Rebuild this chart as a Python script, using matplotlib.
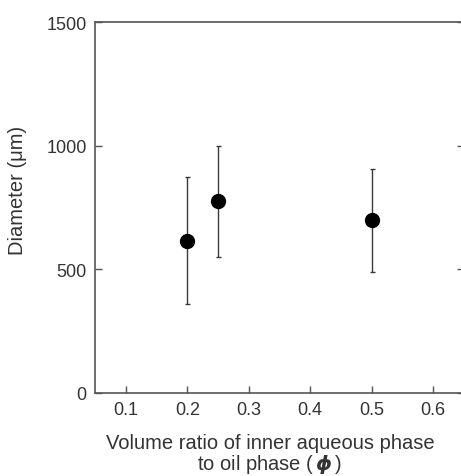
import matplotlib
matplotlib.use("Agg")
import matplotlib.pyplot as plt

# Data
phi = [0.2, 0.25, 0.5]
diameter = [615, 775, 700]
err_low = [255, 225, 210]
err_high = [260, 225, 205]

plt.rcParams['font.family'] = ['Liberation Sans', 'DejaVu Sans']

fig = plt.figure(figsize=(4.61, 4.77), dpi=100)
W, H = 461, 477
ax = fig.add_axes([95 / W, 1 - 394 / H, (464 - 95) / W, (394 - 23) / H])

ax.errorbar(phi, diameter, yerr=[err_low, err_high], fmt='o', color='black',
            ecolor='#3a3a3a', elinewidth=1.0, capsize=1.8, capthick=1.0,
            markersize=10)

ax.set_xlim(0.05, 0.65)
ax.set_ylim(0, 1500)
ax.set_xticks([0.1, 0.2, 0.3, 0.4, 0.5, 0.6])
ax.set_yticks([0, 500, 1000, 1500])

for s in ax.spines.values():
    s.set_color('#555555')
    s.set_linewidth(1.2)

ax.tick_params(direction='in', length=5, width=1, color='#555555',
               labelsize=13, labelcolor='#333333', right=True, pad=6)

ax.set_ylabel('Diameter (\u03bcm)', fontsize=14.5, color='#333333')
ax.yaxis.set_label_coords(-0.185, 0.55)
ax.set_xlabel('Volume ratio of inner aqueous phase\n'
              'to oil phase ($\\,\\boldsymbol{\\phi}\\,$)',
              fontsize=14.5, color='#333333', linespacing=1.05)
ax.xaxis.set_label_coords(0.474, -0.108)

fig.savefig('out.png', dpi=100)
